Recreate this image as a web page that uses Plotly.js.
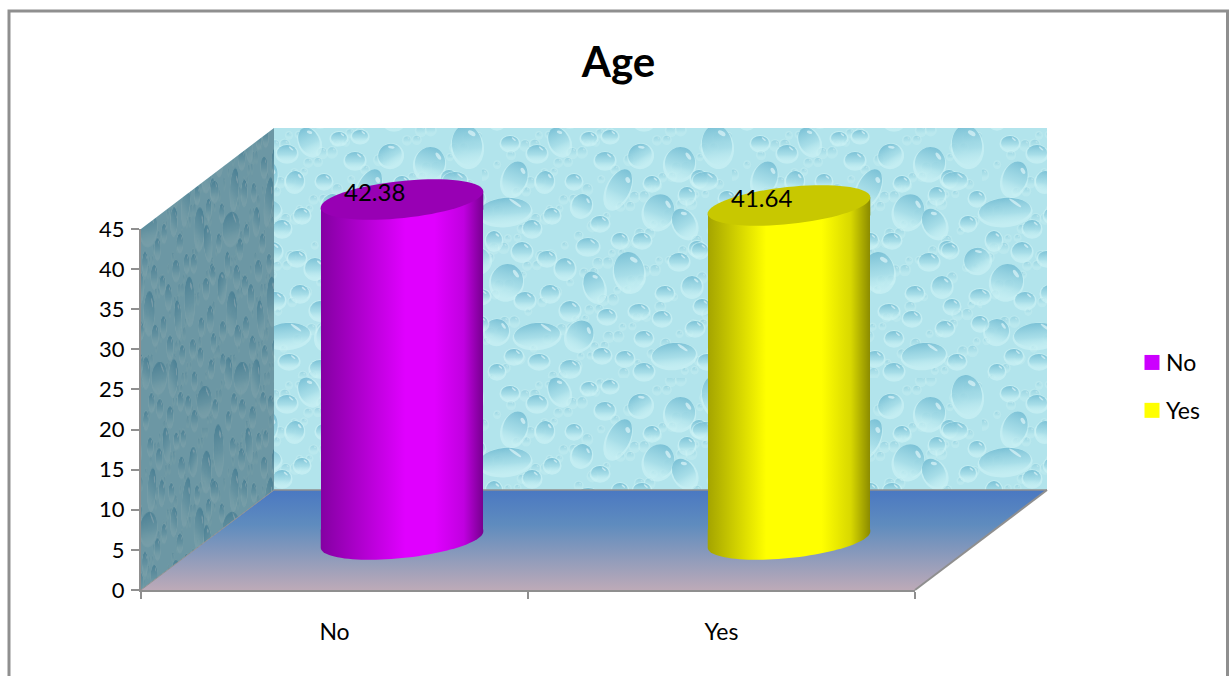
<!DOCTYPE html>
<html>
<head>
<meta charset="utf-8">
<title>Age</title>
<script src="https://cdn.plot.ly/plotly-3.0.1.min.js"></script>
<style>
html,body{margin:0;padding:0;background:#fff;overflow:hidden}
#chart{width:1230px;height:676px}
</style>
</head>
<body>
<svg width="0" height="0" style="position:absolute">
  <defs>
    <linearGradient id="bodyNo" x1="0" x2="1" y1="0" y2="0">
      <stop offset="0" stop-color="#8400a2"/>
      <stop offset="0.52" stop-color="#e000ff"/>
      <stop offset="0.7" stop-color="#e000ff"/>
      <stop offset="0.88" stop-color="#c000e0"/>
      <stop offset="1" stop-color="#76008e"/>
    </linearGradient>
    <linearGradient id="bodyYes" x1="0" x2="1" y1="0" y2="0">
      <stop offset="0" stop-color="#a4a400"/>
      <stop offset="0.36" stop-color="#ffff00"/>
      <stop offset="0.7" stop-color="#ffff00"/>
      <stop offset="0.88" stop-color="#d8d800"/>
      <stop offset="1" stop-color="#8a8a00"/>
    </linearGradient>
  </defs>
</svg>
<div id="chart"></div>
<script>
// Chart values
const categories = ['No', 'Yes'];
const ageValues = [42.38, 41.64];
const valueTicks = [0, 5, 10, 15, 20, 25, 30, 35, 40, 45];
const legendColors = ['#cc00ff', '#ffff00'];
const capColors = ['#9800b4', '#c8c800'];
const bodyGradients = ['bodyNo', 'bodyYes'];

const W = 1230, H = 676;
const FONT = 'Lato, "Open Sans", sans-serif';
const GREY = '#8f8f8f';
const px = x => x / W;
const py = y => 1 - y / H;

// Water-drop pattern: [x, y, rx, ry, tilt] within one 250px tile
const largeDrops = [
  [33,50,12,17,20],[77,13,10,14,-25],[55,25,10,8,0],[28,15,9,7,0],[23,83,26,13,-5],
  [137,60,11,20,25],[100,77,10,11,20],[63,53,9,10,10],[92,53,8,7,0],[158,27,12,11,-30],
  [123,32,10,8,0],[198,35,15,16,15],[107,10,8,6,0],[128,8,8,6,0],[170,55,8,7,0],
  [177,83,15,17,20],[202,95,11,15,-30],[217,50,8,8,0],[205,67,8,8,0],[70,87,8,7,0],
  [50,100,9,8,0],[118,95,9,7,0],[12,112,8,9,0],[40,123,10,9,0],[106,118,11,8,0],
  [65,130,9,7,0],[83,140,10,10,0],[138,112,8,7,0],[160,112,9,7,0],[147,143,15,19,-8],
  [112,158,10,15,-20],[25,153,16,17,15],[68,165,9,8,0],[43,172,10,8,0],[88,182,10,9,0],
  [197,133,10,8,0],[210,158,10,10,0],[183,165,9,7,0],[157,183,10,7,0],[125,188,9,7,0],
  [180,190,9,7,0],[215,120,8,7,0],[15,203,12,12,15],[55,207,23,12,-5],[98,207,13,15,30],
  [162,210,9,7,0],[213,200,9,7,0],[32,228,9,7,0],[57,233,10,7,0],[88,240,10,8,0],
  [120,227,9,7,0],[143,230,9,7,0],[192,227,22,12,-5],[162,243,10,8,0],[15,243,8,7,0],
  [235,17,15,20,-8],[223,52,12,8,0],[245,70,8,7,0],[236,95,8,7,0],[245,132,13,12,-30],
  [218,122,8,7,0],[248,168,10,7,0],[220,178,8,7,0],[225,233,9,7,0],[248,195,8,7,0]
];

function paintDrop(c, x, y, rx, ry, tilt, strength) {
  c.save();
  c.translate(x, y);
  c.rotate(tilt * Math.PI / 180);
  c.beginPath();
  c.ellipse(0, ry * 0.12, rx + 1.6, ry + 1.8, 0, 0, Math.PI * 2);
  c.fillStyle = 'rgba(208,244,246,' + (strength * 0.7) + ')';
  c.fill();
  const g = c.createLinearGradient(0, -ry, 0, ry);
  g.addColorStop(0, 'rgba(108,184,208,' + strength + ')');
  g.addColorStop(0.6, 'rgba(150,212,226,' + (strength * 0.75) + ')');
  g.addColorStop(1, 'rgba(190,236,240,' + (strength * 0.2) + ')');
  c.beginPath();
  c.ellipse(0, 0, rx, ry, 0, 0, Math.PI * 2);
  c.fillStyle = g;
  c.fill();
  c.beginPath();
  c.ellipse(rx * 0.42, -ry * 0.55, Math.max(1.1, rx * 0.28), Math.max(0.8, ry * 0.11), 0.7, 0, Math.PI * 2);
  c.fillStyle = 'rgba(226,248,250,' + (strength * 0.8) + ')';
  c.fill();
  c.restore();
}

function buildTile() {
  const raw = document.createElement('canvas');
  raw.width = raw.height = 250;
  const c = raw.getContext('2d');
  c.fillStyle = '#b2e4ec';
  c.fillRect(0, 0, 250, 250);
  // Fine droplets spread evenly along a golden-ratio sequence
  for (let i = 1; i <= 170; i++) {
    const x = (i * 0.61803) % 1 * 250, y = (i * 0.75488) % 1 * 250;
    paintDrop(c, x, y, 2.5 + (i % 3), 2.5 + (i % 3), 0, 0.4);
  }
  largeDrops.forEach(d => {
    [-250, 0, 250].forEach(ox => [-250, 0, 250].forEach(oy => {
      paintDrop(c, d[0] + ox, d[1] + oy, d[2], d[3], d[4], 0.82);
    }));
  });
  // Soften across the tile edges so the repeats stay seamless
  const big = document.createElement('canvas');
  big.width = big.height = 290;
  const b = big.getContext('2d');
  [-230, 20, 270].forEach(ox => [-230, 20, 270].forEach(oy => b.drawImage(raw, ox, oy)));
  const soft = document.createElement('canvas');
  soft.width = soft.height = 250;
  const s = soft.getContext('2d');
  s.filter = 'blur(0.7px)';
  s.drawImage(big, -20, -20);
  return soft;
}

// Back wall, side wall and floor of the chart box
function buildWalls() {
  const cv = document.createElement('canvas');
  cv.width = W; cv.height = H;
  const c = cv.getContext('2d');
  const pattern = c.createPattern(buildTile(), 'repeat');

  c.save();
  c.beginPath();
  c.rect(274, 128, 773, 362);
  c.clip();
  c.translate(482, 128);
  c.fillStyle = pattern;
  c.fillRect(-300, -10, 900, 400);
  c.restore();

  c.save();
  c.beginPath();
  c.moveTo(141, 229); c.lineTo(274, 128); c.lineTo(274, 490); c.lineTo(141, 590);
  c.closePath();
  c.clip();
  c.save();
  c.setTransform(0.33, 0, 0, 1.2, 141, 128);
  c.fillStyle = pattern;
  c.fillRect(-20, -20, 500, 500);
  c.restore();
  c.globalCompositeOperation = 'multiply';
  c.fillStyle = '#9aa9b1';
  c.fillRect(141, 128, 133, 462);
  c.restore();

  const floor = c.createLinearGradient(0, 490, 0, 590);
  floor.addColorStop(0, '#4a78c2');
  floor.addColorStop(0.35, '#5f8cbe');
  floor.addColorStop(1, '#bdaab8');
  c.beginPath();
  c.moveTo(141, 590); c.lineTo(274, 490); c.lineTo(1047, 490); c.lineTo(915, 590);
  c.closePath();
  c.fillStyle = floor;
  c.fill();
  return cv.toDataURL('image/png');
}

// Pixel scale of the cylinder plane
const depthX = { left: 208.5, right: 982.5, min: -0.5, max: 1.5 };
const depthY = { base: 539.5, unit: 8.022, min: -7, max: 50 };
const unitX = (depthX.right - depthX.left) / (depthX.max - depthX.min);
const barWidth = 0.42;
const capTilt = -6 * Math.PI / 180;
const capB = 18.5;
const halfPx = barWidth / 2 * unitX;
const capA = Math.sqrt(halfPx * halfPx - Math.pow(capB * Math.sin(capTilt), 2)) / Math.cos(capTilt);
// Parameter at which the rim reaches its rightmost point
const rimEnd = Math.atan(-capB * Math.sin(capTilt) / (capA * Math.cos(capTilt)));
// Vertical drop of the rim between the cylinder axis and either side, in pixels
const rimDrop = Math.abs(capA * Math.cos(rimEnd) * Math.sin(capTilt) + capB * Math.sin(rimEnd) * Math.cos(capTilt));

// Rotated ellipse point, in x2/y2 data units
function rimPoint(i, v, t) {
  const ex = capA * Math.cos(t), ey = capB * Math.sin(t);
  const dx = ex * Math.cos(capTilt) - ey * Math.sin(capTilt);
  const dy = ex * Math.sin(capTilt) + ey * Math.cos(capTilt);
  return [i + dx / unitX, v - dy / depthY.unit];
}
const toPath = pts => pts.map((p, k) => (k ? 'L' : 'M') + p[0].toFixed(5) + ',' + p[1].toFixed(4)).join(' ') + ' Z';
function arc(i, v, from, to, n) {
  const pts = [];
  for (let k = 0; k <= n; k++) pts.push(rimPoint(i, v, from + (to - from) * k / n));
  return pts;
}

const depthShape = (path, color) => ({
  type: 'path', xref: 'x2', yref: 'y2', layer: 'above', path: path,
  fillcolor: color, line: { width: 0 }
});

// Foot and shoulder of each cylinder take the body gradient; the cap is flat
const shapes = [
  { type: 'line', xref: 'paper', yref: 'paper', layer: 'below', x0: px(274), y0: py(490), x1: px(1047), y1: py(490), line: { color: GREY, width: 1.5 } },
  { type: 'line', xref: 'paper', yref: 'paper', layer: 'below', x0: px(1047), y0: py(490), x1: px(915), y1: py(590), line: { color: GREY, width: 2 } },
  { type: 'line', xref: 'paper', yref: 'paper', layer: 'below', x0: px(141), y0: py(590), x1: px(274), y1: py(490), line: { color: GREY, width: 1 } },
  { type: 'path', xref: 'paper', yref: 'paper', layer: 'below',
    path: 'M' + px(9) + ',0 L' + px(9) + ',' + py(11) + ' L' + px(1227.5) + ',' + py(11) + ' L' + px(1227.5) + ',0',
    line: { color: GREY, width: 3 } }
];
const gradientShapes = [];
categories.forEach((name, i) => {
  const v = ageValues[i];
  const half = barWidth / 2;
  const overlap = (rimDrop + 2) / depthY.unit;
  const foot = [[i - half, overlap], ...arc(i, 0, Math.PI + rimEnd, rimEnd, 48), [i + half, overlap]];
  gradientShapes.push({ index: shapes.length, gradient: bodyGradients[i] });
  shapes.push(depthShape(toPath(foot), legendColors[i]));
  const shoulder = [[i - half, v - overlap], rimPoint(i, v, Math.PI + rimEnd), rimPoint(i, v, rimEnd), [i + half, v - overlap]];
  gradientShapes.push({ index: shapes.length, gradient: bodyGradients[i] });
  shapes.push(depthShape(toPath(shoulder), legendColors[i]));
  shapes.push(depthShape(toPath(arc(i, v, 0, Math.PI * 2, 72)), capColors[i]));
});

const traces = categories.map((name, i) => ({
  type: 'bar', name: name, x: [i], y: [ageValues[i]], xaxis: 'x2', yaxis: 'y2',
  width: barWidth, legendgroup: name,
  marker: { color: legendColors[i], line: { width: 0 } }, hoverinfo: 'skip'
}));
// Carries the category and value axes in front of the box
traces.unshift({ type: 'scatter', mode: 'none', x: categories, y: ageValues, xaxis: 'x', yaxis: 'y', showlegend: false, hoverinfo: 'skip' });

const annotations = categories.map((name, i) => ({
  xref: 'x2', yref: 'y2', x: i, y: ageValues[i], text: ageValues[i].toFixed(2),
  showarrow: false, xshift: -28, yshift: 8,
  font: { family: FONT, size: 24, color: '#000' }
}));

const layout = {
  width: W, height: H, autosize: false,
  margin: { l: 0, r: 0, t: 0, b: 0 },
  paper_bgcolor: '#fff', plot_bgcolor: 'rgba(0,0,0,0)',
  font: { family: FONT, color: '#000', size: 23 },
  title: { text: 'Age', xref: 'paper', yref: 'paper', x: px(618.5), y: py(62), xanchor: 'center', yanchor: 'middle',
    font: { family: FONT, size: 42, weight: 700, color: '#000' } },
  bargap: 0,
  xaxis: { type: 'category', categoryorder: 'array', categoryarray: categories,
    range: [-0.5, 1.5], domain: [px(141), px(915)], anchor: 'y', fixedrange: true,
    tickson: 'boundaries', ticks: 'outside', ticklen: 7, tickwidth: 2, tickcolor: GREY,
    showline: true, linewidth: 2, linecolor: GREY, showgrid: false, zeroline: false,
    ticklabelstandoff: 20, tickfont: { family: FONT, size: 23, color: '#000' } },
  yaxis: { range: [0, 45], tickvals: valueTicks, domain: [py(590), py(229)], anchor: 'x', fixedrange: true,
    ticks: 'outside', ticklen: 8, tickwidth: 2, tickcolor: GREY,
    showline: true, linewidth: 2, linecolor: GREY, showgrid: false, zeroline: false,
    ticklabelstandoff: 2, tickfont: { family: FONT, size: 22, color: '#000' } },
  xaxis2: { range: [depthX.min, depthX.max], domain: [px(depthX.left), px(depthX.right)], anchor: 'y2', visible: false, fixedrange: true },
  yaxis2: { range: [depthY.min, depthY.max],
    domain: [py(depthY.base - depthY.min * depthY.unit), py(depthY.base - depthY.max * depthY.unit)],
    anchor: 'x2', visible: false, fixedrange: true },
  showlegend: true,
  legend: { x: px(1132), y: py(341), xanchor: 'left', yanchor: 'top', traceorder: 'grouped', tracegroupgap: 15,
    itemwidth: 30, bgcolor: 'rgba(0,0,0,0)', font: { family: FONT, size: 23, color: '#000' } },
  images: [{ source: buildWalls(), xref: 'paper', yref: 'paper', x: 0, y: 1, sizex: 1, sizey: 1,
    sizing: 'stretch', xanchor: 'left', yanchor: 'top', layer: 'below' }],
  shapes: shapes,
  annotations: annotations
};

// Cylinder shading and the larger legend swatches are applied to the drawn SVG
function applyShading(gd) {
  gd.querySelectorAll('.barlayer .trace').forEach((tr, i) => {
    tr.querySelectorAll('.point path').forEach(p => {
      p.style.fill = 'url(#' + bodyGradients[i] + ')';
      // Trim the square corners that would stand clear of the tilted rims
      const d = rimDrop.toFixed(1) + 'px';
      p.style.clipPath = 'polygon(0 ' + d + ', 100% 0, 100% calc(100% - ' + d + '), 0 100%)';
    });
  });
  const above = gd.querySelectorAll('.shapelayer path');
  gradientShapes.forEach(s => {
    above.forEach(p => {
      if (+p.getAttribute('data-index') === s.index) p.style.fill = 'url(#' + s.gradient + ')';
    });
  });
  gd.querySelectorAll('.legend .legendpoints path').forEach(p => { p.setAttribute('d', 'M7.5,7.5H-7.5V-7.5H7.5Z'); });
  gd.querySelectorAll('.legend .legendtext').forEach(t => { t.setAttribute('x', 34); });
}

const gd = document.getElementById('chart');
Plotly.newPlot(gd, traces, layout, { staticPlot: true, displayModeBar: false }).then(() => {
  applyShading(gd);
  gd.on('plotly_afterplot', () => applyShading(gd));
});
</script>
</body>
</html>
